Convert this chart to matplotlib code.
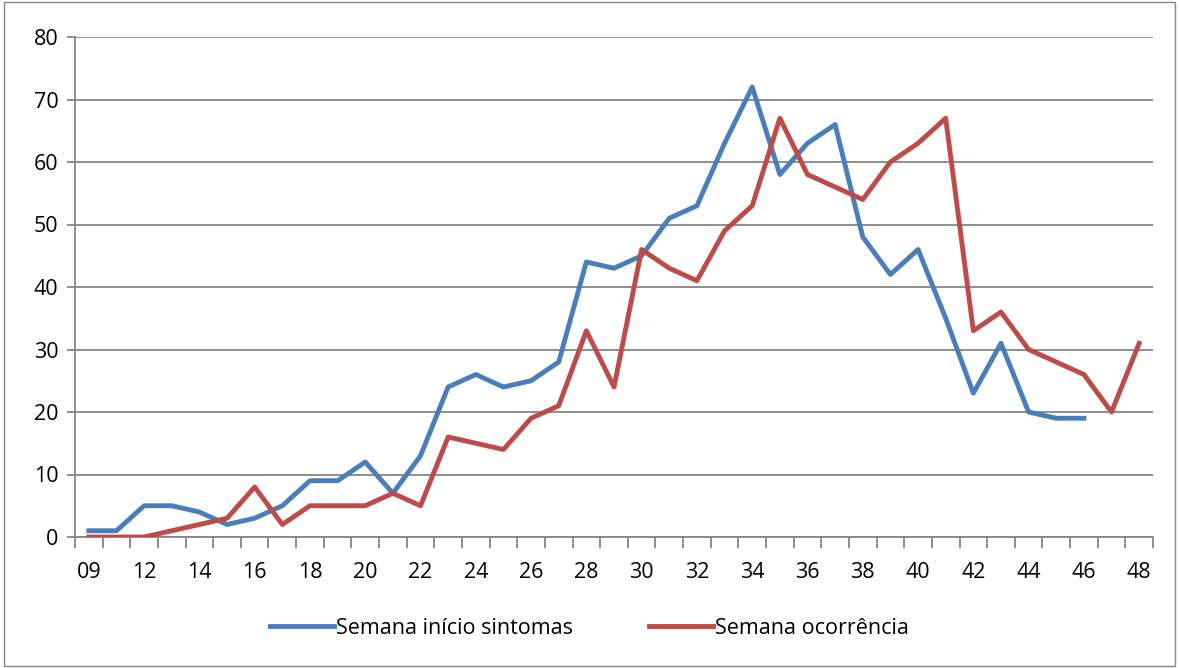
import numpy as np
import matplotlib.pyplot as plt
from matplotlib.patches import Rectangle

# weeks (second category is not labelled in the original)
weeks = ['09', '11', '12', '13', '14', '15', '16', '17', '18', '19', '20', '21',
         '22', '23', '24', '25', '26', '27', '28', '29', '30', '31', '32', '33',
         '34', '35', '36', '37', '38', '39', '40', '41', '42', '43', '44', '45',
         '46', '47', '48']

inicio_sintomas = [1, 1, 5, 5, 4, 2, 3, 5, 9, 9, 12, 7, 13, 24, 26, 24, 25, 28,
                   44, 43, 45, 51, 53, 63, 72, 58, 63, 66, 48, 42, 46, 35, 23,
                   31, 20, 19, 19]
ocorrencia = [0, 0, 0, 1, 2, 3, 8, 2, 5, 5, 5, 7, 5, 16, 15, 14, 19, 21, 33, 24,
              46, 43, 41, 49, 53, 67, 58, 56, 54, 60, 63, 67, 33, 36, 30, 28, 26,
              20, 31]

plt.rcParams['font.family'] = ['Open Sans', 'DejaVu Sans']

fig = plt.figure(figsize=(11.79, 6.68), dpi=100)
ax = fig.add_axes([75 / 1179, 1 - 537 / 668, (1153 - 75) / 1179, 500 / 668])

x = np.arange(len(weeks))
ax.plot(x[:len(inicio_sintomas)], inicio_sintomas, color='#4a7ebb', lw=3.5,
        solid_joinstyle='round', label='Semana início sintomas', zorder=3)
ax.plot(x, ocorrencia, color='#be4b48', lw=3.5, solid_joinstyle='round',
        label='Semana ocorrência', zorder=3)

ax.set_xlim(-0.5, len(weeks) - 0.5)
ax.set_ylim(0, 80)
ax.set_yticks(range(0, 81, 10))
ax.yaxis.grid(True, color='#868686', lw=1.3)
ax.set_axisbelow(True)

# category ticks between the points, labels every other point
ax.set_xticks(np.arange(-0.5, len(weeks), 1.0))
ax.set_xticklabels([])
ax.set_xticks(x[::2], minor=True)
ax.set_xticklabels(weeks[::2], minor=True)
ax.tick_params(axis='x', which='major', length=8, color='#868686', width=1.3)
ax.tick_params(axis='x', which='minor', length=0, pad=18, labelsize=15.5)
ax.tick_params(axis='y', length=6, color='#868686', width=1.3, labelsize=15.5, pad=6)

for s in ['top', 'right']:
    ax.spines[s].set_visible(False)
for s in ['left', 'bottom']:
    ax.spines[s].set_color('#868686')
    ax.spines[s].set_linewidth(1.3)

fig.legend(loc='center', bbox_to_anchor=(0.5, 1 - 628 / 668), ncol=2,
           frameon=False, fontsize=15.5, handlelength=3, handletextpad=0.1,
           columnspacing=3.5)

fig.patches.append(Rectangle((0.003, 0.003), 0.994, 0.994, transform=fig.transFigure,
                             fill=False, edgecolor='#868686', lw=1))

fig.savefig('out.png', dpi=100)
